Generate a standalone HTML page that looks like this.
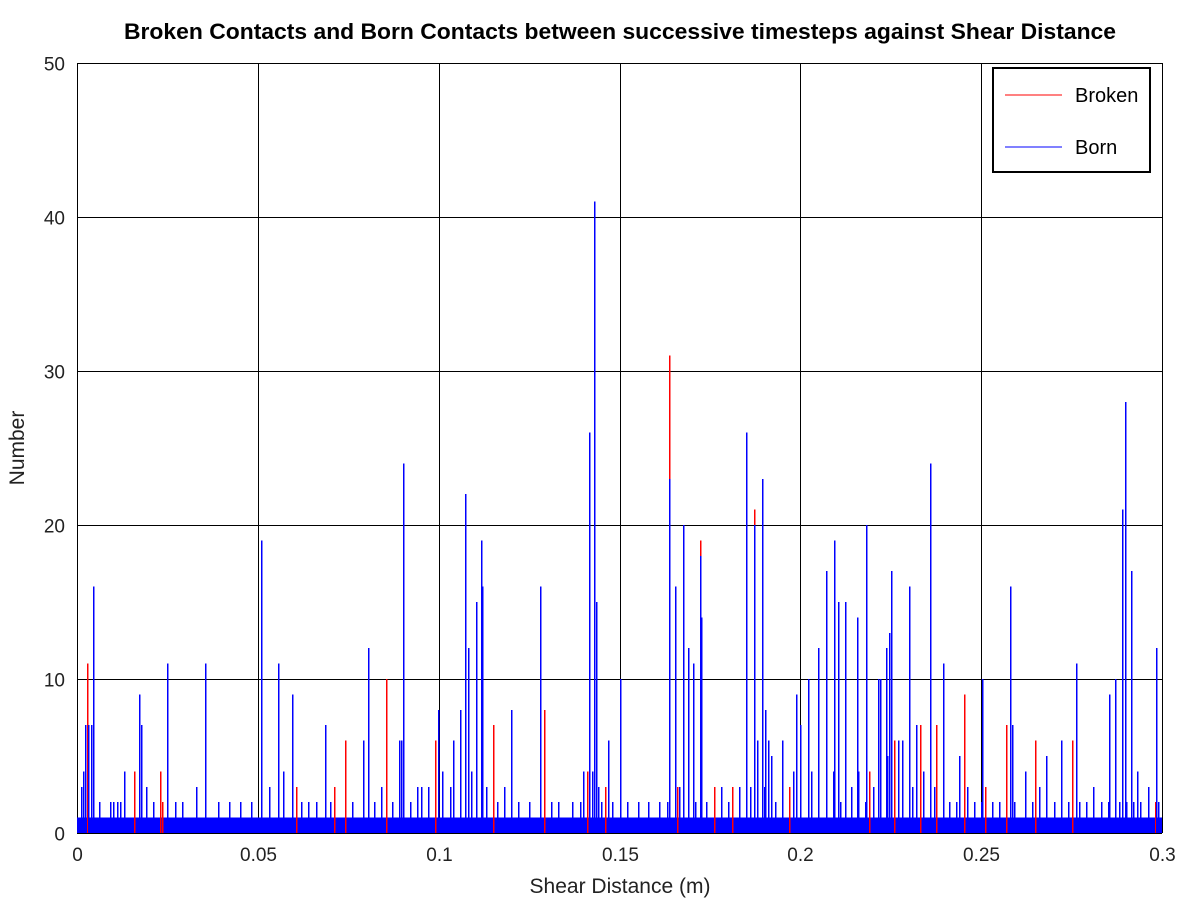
<!DOCTYPE html>
<html><head><meta charset="utf-8"><style>
body{margin:0;background:#fff;}
svg{display:block;font-family:"Liberation Sans",sans-serif;}
</style></head><body>
<svg id="chart" width="1200" height="900" xmlns="http://www.w3.org/2000/svg">
<rect width="1200" height="900" fill="#fff"/>
<text x="620" y="39" text-anchor="middle" font-size="22.5" font-weight="bold" textLength="992" lengthAdjust="spacingAndGlyphs">Broken Contacts and Born Contacts between successive timesteps against Shear Distance</text>
<text x="620" y="893" text-anchor="middle" font-size="21" fill="#222">Shear Distance (m)</text>
<text transform="translate(24,448) rotate(-90)" text-anchor="middle" font-size="21" fill="#222">Number</text>
<g id="grid" shape-rendering="crispEdges"></g><g id="marks" shape-rendering="crispEdges"></g><g id="axes"></g>
<g shape-rendering="crispEdges">
<rect x="993" y="68" width="157" height="104" fill="#fff" stroke="#000" stroke-width="2"/>
<line x1="1005" y1="95" x2="1062" y2="95" stroke="#f00" stroke-width="1"/>
<text x="1075" y="102" font-size="20">Broken</text>
<line x1="1005" y1="147" x2="1062" y2="147" stroke="#00f" stroke-width="1"/>
<text x="1075" y="154" font-size="20">Born</text>
</g>
</svg>
<script>
const xTicks=[0,0.05,0.1,0.15,0.2,0.25,0.3];
const xTickLabels=["0","0.05","0.1","0.15","0.2","0.25","0.3"];
const yTicks=[0,10,20,30,40,50];
const baseLevel=1;
const brokenX=[0.0028,0.0854,0.1291,0.1637,0.1872,0.1722,0.2453,0.0158,0.023,0.074,0.115,0.265,0.275,0.257,0.23,0.2395,0.1500,0.0605,0.0235,0.071,0.099,0.141,0.146,0.158,0.166,0.176,0.181,0.197,0.219,0.226,0.233,0.2375,0.251,0.262,0.287,0.298];
const brokenY=[11,10,8,31,21,19,9,4,4,6,7,6,6,7,7,5,3,3,2,3,6,4,3,2,3,3,3,3,4,6,7,7,3,2,2,2];
const bornX=[0.0017,0.0022,0.0030,0.0039,0.0044,0.0171,0.0177,0.0249,0.0354,0.0509,0.0556,0.0595,0.0686,0.0805,0.0896,0.0901,0.0998,0.1073,0.1081,0.1103,0.1117,0.1120,0.1280,0.1416,0.1429,0.1435,0.1468,0.1501,0.1637,0.1653,0.1675,0.1689,0.1703,0.1722,0.1724,0.1850,0.1872,0.1894,0.1902,0.1988,0.2021,0.2071,0.2093,0.2104,0.2124,0.2157,0.2182,0.2215,0.2237,0.2245,0.2251,0.2300,0.2359,0.2395,0.2502,0.2580,0.2585,0.2762,0.2854,0.2870,0.2889,0.2898,0.2914,0.2931,0.2983,
0.013,0.033,0.057,0.079,0.089,0.106,0.104,0.12,0.14,0.152,0.178,0.195,0.2,0.205,0.228,0.232,0.244,0.262,0.268,0.272,0.283,0.009,0.045,0.066,0.095,0.118,0.133,0.158,0.183,0.192,0.216,0.248,0.266,0.279,0.292,
0.001,0.006,0.010,0.011,0.012,0.019,0.021,0.027,0.029,0.039,0.042,0.048,0.053,0.062,0.064,0.070,0.076,0.082,0.084,0.087,0.092,0.094,0.097,0.101,0.103,0.109,0.113,0.116,0.122,0.125,0.131,0.137,0.139,0.1425,0.144,0.145,0.148,0.155,0.161,0.163,0.1665,0.171,0.174,0.180,0.186,0.188,0.190,0.191,0.193,0.198,0.203,0.207,0.209,0.211,0.214,0.218,0.220,0.222,0.224,0.227,0.231,0.234,0.237,0.241,0.243,0.246,0.250,0.253,0.255,0.259,0.264,0.270,0.274,0.277,0.281,0.285,0.288,0.290,0.294,0.296,0.299];
const bornY=[4,7,7,7,16,9,7,11,11,19,11,9,7,12,6,24,8,22,12,15,19,16,16,26,41,15,6,10,23,16,20,12,11,18,14,26,20,23,8,9,10,17,19,15,15,14,20,10,12,13,17,16,24,11,10,16,7,11,9,10,21,28,17,4,12,
4,3,4,6,6,8,6,8,4,2,3,6,7,12,6,7,5,4,5,6,2,2,2,2,3,3,2,2,3,5,4,2,3,2,2,
3,2,2,2,2,3,2,2,2,2,2,2,3,2,2,2,2,2,3,2,2,3,3,4,3,4,3,2,2,2,2,2,2,4,3,2,2,2,2,2,3,2,2,2,3,6,3,6,2,4,4,5,4,2,3,2,3,10,5,6,3,4,3,2,2,3,2,2,2,2,2,2,2,2,3,2,2,2,2,3,2];
const L=77,R=1162,T=63,B=833;
const sx=v=>L+v*(R-L)/0.3, sy=v=>B-v*(B-T)/50;
const NS="http://www.w3.org/2000/svg";
function mk(t,a,p){const e=document.createElementNS(NS,t);for(const k in a)e.setAttribute(k,a[k]);p.appendChild(e);return e;}
const grid=document.getElementById('grid'),marks=document.getElementById('marks'),axes=document.getElementById('axes');
xTicks.forEach((v,i)=>{const x=Math.round(sx(v))+0.5;
 const g=mk('line',{x1:x,y1:T,x2:x,y2:B,stroke:'#000','stroke-width':1},grid);
 
 
 const t=mk('text',{x:x,y:B+28,'text-anchor':'middle','font-size':19,fill:'#222'},axes);t.textContent=xTickLabels[i];
 
 });
yTicks.forEach(v=>{const y=Math.round(sy(v))+0.5;
 const g=mk('line',{x1:L,y1:y,x2:R,y2:y,stroke:'#000','stroke-width':1},grid);
 
 
 const t=mk('text',{x:L-12,y:y+7,'text-anchor':'end','font-size':19,fill:'#222'},axes);t.textContent=String(v);
 
 });
const base=mk('rect',{x:L,y:sy(baseLevel),width:R-L,height:B-sy(baseLevel),fill:'#00f'},marks);


brokenX.forEach((v,i)=>{const x=Math.round(sx(v))+0.5;
 const l=mk('line',{x1:x,y1:B,x2:x,y2:sy(brokenY[i]),stroke:'#f00','stroke-width':1.5},marks);
 
 });
bornX.forEach((v,i)=>{const x=Math.round(sx(v))+0.5;
 const l=mk('line',{x1:x,y1:B,x2:x,y2:sy(bornY[i]),stroke:'#00f','stroke-width':1.5},marks);
 
 });
</script>
</body></html>
